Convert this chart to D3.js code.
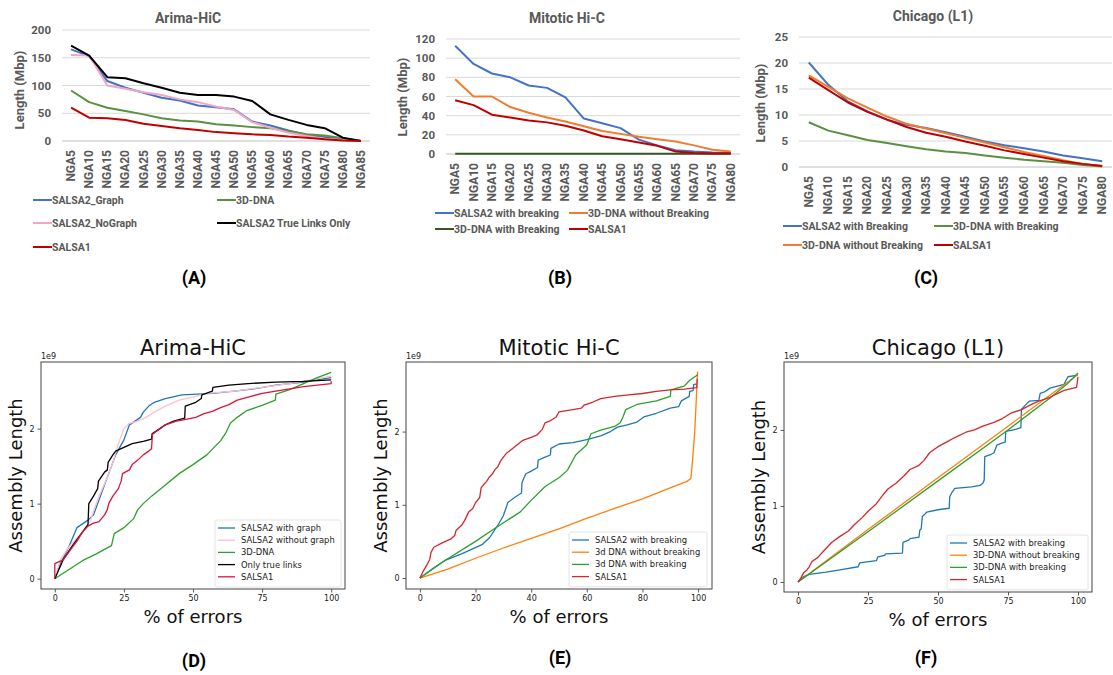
<!DOCTYPE html>
<html>
<head>
<meta charset="utf-8">
<script src="https://cdn.jsdelivr.net/npm/d3@7"></script>
<style>
  body { margin: 0; background: #fff; }
  svg { display: block; }
</style>
</head>
<body>
<svg id="fig" width="1113" height="675"></svg>
<script>
// ---------- top row data (Mbp) ----------
var ngaA = ["NGA5","NGA10","NGA15","NGA20","NGA25","NGA30","NGA35","NGA40","NGA45","NGA50","NGA55","NGA60","NGA65","NGA70","NGA75","NGA80","NGA85"];
var ngaB = ngaA.slice(0, 16);
var ngaC = ["NGA5","NGA10","NGA15","NGA20","NGA25","NGA30","NGA35","NGA40","NGA45","NGA50","NGA55","NGA60","NGA65","NGA70","NGA75","NGA80"];

var a_salsa2Graph   = [165,153,108,96,87,78,73,64,61,57,35,28,19,11,7,4,0];
var a_salsa2NoGraph = [155,154,100,94,88,83,75,70,62,56,34,24,15,9,4,2,0];
var a_trueLinks     = [172,154,115,113,104,96,87,83,83,80,72,48,38,29,23,6,0];
var a_dna3d         = [91,70,60,54,48,41,37,35,30,28,25,23,18,12,10,5,0];
var a_salsa1        = [60,42,41,38,31,27,23,20,16,14,12,11,8,6,3,1,0];

var b_salsa2Break   = [113,94,84,80,71.5,69,59,37,32,27,15,9,4,2.5,1.5,1];
var b_dnaNoBreak    = [78,60,60,49,43,38,34,29,24,21,18,15.5,13,9,4.5,2.5];
var b_dnaBreak      = [0.3,0.3,0.3,0.3,0.3,0.3,0.3,0.3,0.3,0.3,0.3,0.3,0.3,0.3,0.3,0.3];
var b_salsa1        = [56,51,41,38,35,33,29.5,24.5,18.5,15.5,12,8.5,2.5,1,0.5,0.5];

var c_salsa2Break   = [20.1,15.8,12.6,10.7,9.1,8.1,7.5,6.7,5.8,4.9,4.2,3.6,3.0,2.2,1.7,1.1];
var c_dnaBreak      = [8.6,7.0,6.1,5.2,4.6,4.0,3.4,3.0,2.7,2.2,1.8,1.4,1.1,0.8,0.4,0.1];
var c_dnaNoBreak    = [17.6,15.4,13.2,11.4,9.7,8.3,7.4,6.5,5.6,4.7,3.8,2.9,2.1,1.3,0.6,0.2];
var c_salsa1        = [17.2,14.8,12.4,10.6,9.1,7.7,6.6,5.8,4.9,4.1,3.2,2.5,1.8,1.1,0.6,0.2];

// ---------- bottom row data: [% of errors, assembly length (1e9)] ----------
var d_salsa2Graph = [[0,0],[2,0.2],[5,0.42],[8,0.68],[12,0.78],[14,0.85],[16,1.05],[18,1.25],[20,1.45],[22,1.65],[25,1.85],[27,2.05],[29,2.1],[31,2.15],[32,2.22],[34,2.3],[36,2.35],[40,2.4],[46,2.45],[57,2.47],[65,2.5],[72,2.53],[80,2.58],[90,2.62],[100,2.68]];
var d_salsa2NoGraph = [[0,0],[2,0.25],[5,0.42],[10,0.62],[13,0.78],[14,0.9],[16,1.1],[19,1.35],[21,1.55],[23,1.8],[25,2.0],[27,2.07],[30,2.1],[33,2.15],[36,2.22],[40,2.3],[45,2.38],[50,2.42],[55,2.47],[65,2.5],[75,2.55],[85,2.6],[100,2.7]];
var d_dna3d = [[0,0],[5,0.12],[10,0.24],[15,0.33],[20.5,0.44],[21.5,0.6],[25,0.68],[28.5,0.8],[30,0.92],[32,1.0],[35,1.1],[40,1.25],[45,1.4],[50,1.52],[55,1.65],[60,1.84],[62,1.95],[63.5,2.07],[66,2.15],[69.5,2.24],[75,2.31],[79.8,2.38],[80,2.46],[85,2.52],[90,2.6],[95,2.68],[100,2.75]];
var d_trueLinks = [[0,0],[3,0.25],[6,0.42],[10,0.62],[12,0.72],[12.3,1.0],[14,1.1],[15.5,1.2],[15.8,1.3],[18,1.42],[19,1.45],[19.3,1.55],[21,1.65],[22,1.7],[25,1.75],[28,1.8],[32,1.83],[35,1.86],[35.2,1.93],[38,2.0],[40,2.05],[43,2.1],[47,2.14],[47.2,2.3],[51,2.35],[53,2.4],[53.2,2.45],[57,2.5],[57.2,2.55],[63,2.58],[70,2.6],[80,2.62],[90,2.63],[100,2.65]];
var d_salsa1 = [[0,0],[0,0.2],[3,0.25],[6,0.4],[8,0.5],[10,0.62],[12,0.7],[14,0.74],[16,0.76],[18,0.85],[19,0.92],[19.5,1.0],[21,1.1],[23,1.2],[24,1.3],[24.5,1.4],[27,1.45],[28,1.52],[30,1.58],[32,1.65],[34,1.7],[35,1.73],[35.3,1.92],[37,1.97],[40,2.05],[44,2.1],[47,2.12],[51,2.15],[54,2.2],[57,2.23],[60,2.28],[63,2.32],[66,2.38],[70,2.42],[75,2.47],[80,2.5],[85,2.53],[90,2.56],[95,2.58],[100,2.6],[100,2.63]];

var e_salsa2Break = [[0,0],[5,0.14],[9,0.24],[15,0.33],[22.5,0.46],[25,0.55],[28,0.72],[30,0.85],[31.6,1.03],[34,1.1],[36.5,1.16],[36.7,1.3],[38,1.42],[40,1.46],[42.3,1.51],[42.5,1.61],[45,1.65],[46.9,1.68],[47.1,1.77],[50,1.83],[55,1.85],[60,1.89],[65,1.94],[68.5,2.0],[71,2.06],[74.5,2.09],[78,2.13],[80.5,2.2],[85,2.25],[90,2.32],[93,2.34],[94,2.42],[96.8,2.48],[97,2.55],[98.2,2.56],[98.4,2.64],[99.5,2.65]];
var e_dnaNoBreak = [[0,0],[10,0.12],[20,0.27],[30,0.41],[40,0.54],[50,0.67],[58.9,0.8],[70,0.95],[80,1.08],[90,1.23],[96,1.32],[97.4,1.36],[98,1.6],[98.8,2.0],[99.3,2.4],[99.8,2.82]];
var e_dnaBreak = [[0,0],[9,0.24],[20,0.5],[27,0.68],[36,0.9],[40,1.06],[45,1.25],[50,1.37],[53,1.47],[56,1.68],[60,1.82],[61.5,1.97],[65,2.02],[70,2.07],[72,2.12],[73,2.2],[74,2.3],[78,2.37],[85,2.42],[90,2.48],[90.2,2.57],[95,2.62],[97,2.7],[100,2.78]];
var e_salsa1 = [[0,0],[1,0.08],[2.5,0.18],[3.5,0.25],[4,0.35],[5,0.42],[8,0.48],[11,0.53],[12.5,0.58],[13,0.65],[15,0.72],[16,0.78],[17.5,0.9],[19,0.95],[20,1.03],[21.5,1.1],[22,1.23],[23,1.28],[24,1.32],[25,1.38],[26,1.42],[27,1.48],[28,1.52],[29,1.6],[30,1.65],[31,1.7],[33,1.76],[35,1.82],[37,1.88],[40,1.92],[42,1.95],[44,2.03],[45,2.12],[47,2.15],[49,2.2],[50,2.27],[55,2.3],[58,2.32],[59,2.36],[62,2.4],[65,2.45],[70,2.48],[75,2.5],[80,2.52],[85,2.55],[90,2.57],[95,2.58],[99.5,2.6],[99.7,2.72]];

var f_salsa2Break = [[0,0],[2,0.07],[4,0.1],[10,0.13],[15,0.16],[21.5,0.2],[22,0.25],[28,0.28],[28.5,0.33],[31,0.35],[31.2,0.37],[37.3,0.38],[37.5,0.52],[39.5,0.55],[40,0.57],[43.2,0.59],[43.5,0.68],[44,0.7],[44.4,0.86],[45,0.88],[46,0.92],[50,0.95],[54,0.97],[54.2,1.12],[55,1.18],[56,1.23],[62,1.25],[65,1.27],[66,1.3],[66.5,1.34],[66.7,1.65],[69,1.68],[70,1.7],[71,1.8],[73,1.83],[74,1.84],[74.2,1.98],[77,2.0],[79.6,2.03],[79.8,2.27],[81,2.32],[82.7,2.38],[86,2.39],[86.5,2.48],[88,2.5],[90,2.55],[93,2.58],[95,2.6],[96.4,2.7],[100,2.72]];
var f_dnaNoBreak = [[0,0],[25,0.69],[50,1.37],[75,2.05],[100,2.73]];
var f_dnaBreak = [[0,0],[25,0.66],[50,1.33],[75,2.0],[90,2.42],[96,2.6],[100,2.75]];
var f_salsa1 = [[0,0],[1,0.05],[2,0.12],[3,0.15],[4,0.2],[5,0.27],[7,0.32],[9,0.4],[12,0.52],[15,0.6],[18,0.67],[20,0.75],[23,0.85],[25,0.93],[28,1.03],[30,1.13],[32,1.22],[35,1.3],[38,1.4],[40,1.48],[43,1.53],[45,1.6],[47,1.7],[50,1.78],[53,1.84],[56,1.9],[60,1.97],[63,2.0],[66,2.05],[70,2.1],[73,2.15],[76,2.22],[80,2.27],[83,2.33],[86,2.38],[90,2.43],[95,2.52],[99.5,2.56],[100,2.7]];

var svg = d3.select("#fig");
var xlGray = "#595959";
var topFont = "Roboto, 'Liberation Sans', sans-serif";
var mplFont = "'DejaVu Sans', sans-serif";

// Excel-style line chart
function excelChart(o) {
    var g = svg.append("g");
    var x = d3.scaleBand().domain(o.cats).range([o.x0, o.x1]);
    var y = d3.scaleLinear().domain([0, o.ymax]).range([o.y0, o.y1]);

    g.selectAll("line.grid").data(y.ticks(o.ymax / o.step)).enter()
        .append("line")
        .attr("x1", o.x0).attr("x2", o.x1)
        .attr("y1", d => y(d)).attr("y2", d => y(d))
        .attr("stroke", d => d == 0 ? "#bfbfbf" : "#d9d9d9").attr("stroke-width", 1);

    g.selectAll("text.yt").data(d3.range(0, o.ymax + 0.1, o.step)).enter()
        .append("text")
        .attr("x", o.x0 - 11).attr("y", d => y(d) + 4)
        .attr("text-anchor", "end")
        .attr("font-family", topFont).attr("font-weight", 700).attr("font-size", 11.5)
        .attr("fill", xlGray).text(d => d);

    g.selectAll("text.xt").data(o.cats).enter()
        .append("text")
        .attr("transform", d => "translate(" + (x(d) + x.bandwidth() / 2 + 4) + "," + (o.y0 + 9) + ") rotate(-90)")
        .attr("text-anchor", "end")
        .attr("font-family", topFont).attr("font-weight", 700).attr("font-size", 12)
        .attr("fill", xlGray).text(d => d);

    g.append("text")
        .attr("transform", "translate(" + o.ytx + "," + o.yty + ") rotate(-90)")
        .attr("text-anchor", "middle")
        .attr("font-family", topFont).attr("font-weight", 700).attr("font-size", 13)
        .attr("fill", xlGray).text("Length (Mbp)");

    g.append("text")
        .attr("x", o.tx).attr("y", o.ty)
        .attr("text-anchor", "middle")
        .attr("font-family", topFont).attr("font-weight", 700).attr("font-size", 14)
        .attr("fill", xlGray).text(o.title);

    var line = d3.line()
        .x((d, i) => x(o.cats[i]) + x.bandwidth() / 2)
        .y(d => y(d));

    o.series.forEach(s => {
        g.append("path").datum(s.values)
            .attr("d", line)
            .attr("fill", "none")
            .attr("stroke", s.color).attr("stroke-width", 2)
            .attr("stroke-linejoin", "round");
    });

    o.series.forEach(s => {
        var lx = s.leg[0], ly = s.leg[1];
        g.append("line").attr("x1", lx).attr("x2", lx + 19).attr("y1", ly).attr("y2", ly)
            .attr("stroke", s.color).attr("stroke-width", 2);
        g.append("text").attr("x", lx + 19).attr("y", ly + 4)
            .attr("font-family", topFont).attr("font-weight", 700).attr("font-size", 10.5)
            .attr("fill", xlGray).text(s.name);
    });
}

// matplotlib-style line chart
function mplChart(o) {
    var g = svg.append("g");
    var x = d3.scaleLinear().domain([-5, 105]).range([o.x0, o.x1]);
    var y = d3.scaleLinear().domain(o.ydom).range([o.y0, o.y1]);

    var clipId = "clip" + o.id;
    g.append("clipPath").attr("id", clipId).append("rect")
        .attr("x", o.x0).attr("y", o.y1).attr("width", o.x1 - o.x0).attr("height", o.y0 - o.y1);

    var line = d3.line().x(d => x(d[0])).y(d => y(d[1]));
    var lg = g.append("g").attr("clip-path", "url(#" + clipId + ")");
    o.series.forEach(s => {
        lg.append("path").datum(s.values)
            .attr("d", line)
            .attr("fill", "none")
            .attr("stroke", s.color).attr("stroke-width", 1.3)
            .attr("stroke-linejoin", "round");
    });

    var xa = g.append("g").attr("transform", "translate(0," + o.y0 + ")")
        .call(d3.axisBottom(x).tickValues(o.xticks).tickSize(3.5).tickPadding(3).tickFormat(d3.format("d")));
    var ya = g.append("g").attr("transform", "translate(" + o.x0 + ",0)")
        .call(d3.axisLeft(y).tickValues([0, 1, 2]).tickSize(3.5).tickPadding(3).tickFormat(d3.format("d")));
    [xa, ya].forEach(a => {
        a.select(".domain").remove();
        a.selectAll("line").attr("stroke", "#333").attr("stroke-width", 0.8);
        a.selectAll("text").attr("font-family", mplFont).attr("font-size", 8).attr("fill", "#222");
    });

    g.append("rect").attr("x", o.x0).attr("y", o.y1)
        .attr("width", o.x1 - o.x0).attr("height", o.y0 - o.y1)
        .attr("fill", "none").attr("stroke", "#444").attr("stroke-width", 1);

    g.append("text").attr("x", o.x0).attr("y", o.y1 - 3)
        .attr("font-family", mplFont).attr("font-size", 8).attr("fill", "#222").text("1e9");

    g.append("text").attr("x", (o.x0 + o.x1) / 2).attr("y", o.y1 - 7)
        .attr("text-anchor", "middle")
        .attr("font-family", mplFont).attr("font-size", 21).attr("fill", "#111").text(o.title);

    g.append("text").attr("x", (o.x0 + o.x1) / 2).attr("y", o.y0 + 34)
        .attr("text-anchor", "middle")
        .attr("font-family", mplFont).attr("font-size", 18).attr("fill", "#111").text("% of errors");

    g.append("text")
        .attr("transform", "translate(" + (o.x0 - 19) + "," + ((o.y0 + o.y1) / 2) + ") rotate(-90)")
        .attr("text-anchor", "middle")
        .attr("font-family", mplFont).attr("font-size", 18).attr("fill", "#111").text("Assembly Length");

    // legend
    var L = o.legend;
    g.append("rect").attr("x", L.x).attr("y", L.y).attr("width", L.w)
        .attr("height", o.series.length * 12.2 + 6).attr("rx", 2)
        .attr("fill", "#fff").attr("fill-opacity", 0.85)
        .attr("stroke", "#ddd").attr("stroke-width", 0.8);
    o.series.forEach((s, i) => {
        var ly = L.y + 8 + i * 12.2;
        g.append("line").attr("x1", L.x + 3).attr("x2", L.x + 20).attr("y1", ly).attr("y2", ly)
            .attr("stroke", s.color).attr("stroke-width", 1.3);
        g.append("text").attr("x", L.x + 26).attr("y", ly + 3)
            .attr("font-family", mplFont).attr("font-size", 8.4).attr("fill", "#222").text(s.name);
    });
}

excelChart({
    cats: ngaA, ymax: 200, step: 50, x0: 62, x1: 370, y0: 141, y1: 30,
    title: "Arima-HiC", tx: 188, ty: 23, ytx: 24, yty: 90,
    series: [
        { name: "SALSA2_Graph", values: a_salsa2Graph, color: "#4472c4", leg: [33, 200] },
        { name: "3D-DNA", values: a_dna3d, color: "#5a9140", leg: [217, 200] },
        { name: "SALSA2_NoGraph", values: a_salsa2NoGraph, color: "#f2a5c6", leg: [33, 223] },
        { name: "SALSA2 True Links Only", values: a_trueLinks, color: "#000000", leg: [217, 223] },
        { name: "SALSA1", values: a_salsa1, color: "#c00000", leg: [33, 247] }
    ]
});

excelChart({
    cats: ngaB, ymax: 120, step: 20, x0: 446, x1: 740, y0: 154, y1: 39,
    title: "Mitotic Hi-C", tx: 567, ty: 23, ytx: 407, yty: 97,
    series: [
        { name: "SALSA2 with breaking", values: b_salsa2Break, color: "#4472c4", leg: [435, 213] },
        { name: "3D-DNA without Breaking", values: b_dnaNoBreak, color: "#ed7d31", leg: [569, 213] },
        { name: "3D-DNA with Breaking", values: b_dnaBreak, color: "#375623", leg: [435, 229] },
        { name: "SALSA1", values: b_salsa1, color: "#c00000", leg: [569, 229] }
    ]
});

excelChart({
    cats: ngaC, ymax: 25, step: 5, x0: 799, x1: 1112, y0: 167, y1: 37,
    title: "Chicago (L1)", tx: 933, ty: 21, ytx: 765, yty: 103,
    series: [
        { name: "SALSA2 with Breaking", values: c_salsa2Break, color: "#4472c4", leg: [783, 226] },
        { name: "3D-DNA with Breaking", values: c_dnaBreak, color: "#5a9140", leg: [934, 226] },
        { name: "3D-DNA without Breaking", values: c_dnaNoBreak, color: "#ed7d31", leg: [783, 245] },
        { name: "SALSA1", values: c_salsa1, color: "#c00000", leg: [934, 245] }
    ]
});

mplChart({
    id: "D", title: "Arima-HiC", x0: 41, x1: 345, y0: 589, y1: 362,
    ydom: [-0.1375, 2.8875], xticks: [0, 25, 50, 75, 100],
    legend: { x: 215, y: 520, w: 126 },
    series: [
        { name: "SALSA2 with graph", values: d_salsa2Graph, color: "#1f77b4" },
        { name: "SALSA2 without graph", values: d_salsa2NoGraph, color: "pink" },
        { name: "3D-DNA", values: d_dna3d, color: "#2ca02c" },
        { name: "Only true links", values: d_trueLinks, color: "#000000" },
        { name: "SALSA1", values: d_salsa1, color: "crimson" }
    ]
});

mplChart({
    id: "E", title: "Mitotic Hi-C", x0: 406, x1: 712, y0: 589, y1: 362,
    ydom: [-0.15, 2.95], xticks: [0, 20, 40, 60, 80, 100],
    legend: { x: 569, y: 532, w: 138 },
    series: [
        { name: "SALSA2 with breaking", values: e_salsa2Break, color: "#1f77b4" },
        { name: "3d DNA without breaking", values: e_dnaNoBreak, color: "#ff7f0e" },
        { name: "3d DNA with breaking", values: e_dnaBreak, color: "#2ca02c" },
        { name: "SALSA1", values: e_salsa1, color: "#d62728" }
    ]
});

mplChart({
    id: "F", title: "Chicago (L1)", x0: 784, x1: 1092, y0: 592, y1: 362,
    ydom: [-0.132, 2.894], xticks: [0, 25, 50, 75, 100],
    legend: { x: 947, y: 535, w: 141 },
    series: [
        { name: "SALSA2 with breaking", values: f_salsa2Break, color: "#1f77b4" },
        { name: "3D-DNA without breaking", values: f_dnaNoBreak, color: "#ff7f0e" },
        { name: "3D-DNA with breaking", values: f_dnaBreak, color: "#2ca02c" },
        { name: "SALSA1", values: f_salsa1, color: "#d62728" }
    ]
});

// panel letters
var panelLabels = ["(A)", "(B)", "(C)", "(D)", "(E)", "(F)"];
var panelPos = [[194, 284], [560, 284], [926, 284], [194, 667], [560, 664], [926, 664]];
svg.selectAll("text.plabel").data(panelLabels).enter()
    .append("text")
    .attr("x", (d, i) => panelPos[i][0]).attr("y", (d, i) => panelPos[i][1])
    .attr("text-anchor", "middle")
    .attr("font-family", topFont).attr("font-weight", 700).attr("font-size", 18)
    .attr("fill", "#000").text(d => d);
</script>
</body>
</html>
